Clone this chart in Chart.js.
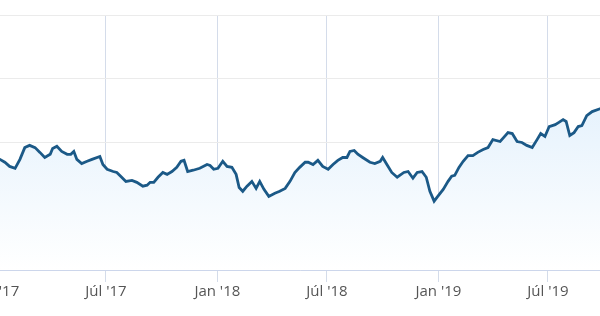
<!DOCTYPE html>
<html>
<head>
<meta charset="utf-8">
<script src="https://cdn.jsdelivr.net/npm/chart.js@4"></script>
<style>
  html, body { margin: 0; padding: 0; background: #fff; overflow: hidden; }
  #wrap { position: absolute; left: -60px; top: 0; width: 720px; height: 316px; }
</style>
</head>
<body>
<div id="wrap"><canvas id="chart" width="720" height="316"></canvas></div>
<script>
// days counted from 1 Jan 2017
const days = [0, 6, 14, 22, 31, 39, 47, 55, 64, 72, 80, 89, 93, 100, 108, 117, 123, 128, 133, 141,
  150, 158, 171, 176, 183, 193, 199, 207, 214, 224, 232, 242, 249, 254, 260, 267, 275, 282, 290, 298,
  305, 310, 316, 325, 336, 348, 353, 359, 366, 374, 381, 389, 396, 401, 407, 414, 422, 429, 435, 442,
  450, 460, 468, 477, 485, 493, 501, 510, 515, 523, 531, 539, 548, 556, 564, 572, 579, 584, 591, 597,
  605, 617, 625, 634, 638, 645, 653, 662, 673, 680, 688, 695, 703, 710, 716, 723, 729, 738, 746, 752,
  757, 764, 771, 779, 787, 795, 804, 812, 820, 832, 838, 845, 852, 860, 868, 876, 885, 893, 899, 906,
  913, 923, 929, 936, 941, 947, 954, 961, 967, 975, 984, 997, 1007];

const values = [95.3, 94.7, 93.8, 92.5, 91.9, 94.7, 98.4, 99.1, 98.4, 96.9, 95.3, 96.3, 98.1, 98.8, 97.2, 96.3, 96.3, 97.2, 94.7, 93.4,
  94.1, 94.7, 95.6, 93.1, 91.6, 90.9, 90.6, 89.1, 87.8, 88.1, 87.5, 86.3, 86.6, 87.5, 87.5, 89.1, 90.6, 90.0, 90.9, 92.2,
  94.1, 94.4, 90.9, 91.3, 91.9, 93.1, 92.8, 91.6, 91.9, 94.1, 92.5, 92.2, 90.0, 85.9, 84.7, 86.3, 87.8, 85.6, 87.8, 85.3,
  83.1, 84.1, 84.7, 85.6, 87.8, 90.6, 92.2, 93.8, 93.8, 93.1, 94.4, 92.5, 91.6, 93.1, 94.4, 95.3, 95.3, 97.2, 97.5, 96.3,
  95.3, 93.8, 93.4, 94.1, 95.3, 93.1, 90.6, 89.1, 90.6, 90.9, 88.8, 90.6, 90.9, 89.1, 84.7, 81.6, 83.1, 85.3, 87.8, 89.4,
  89.7, 92.2, 94.1, 95.9, 95.9, 96.9, 97.8, 98.4, 100.9, 100.3, 101.6, 103.1, 102.8, 100.3, 100.0, 99.1, 98.4, 100.9, 102.8, 101.9,
  105.0, 105.6, 106.3, 107.2, 106.6, 102.2, 103.1, 105.0, 105.3, 108.4, 109.7, 110.6, 111.3];

const tickDays = [0, 181, 365, 546, 730, 911];
const tickLabels = ["Jan '17", "Júl '17", "Jan '18", "Júl '18", "Jan '19", "Júl '19"];

const points = days.map((d, i) => ({x: d, y: values[i]}));

new Chart(document.getElementById('chart'), {
  type: 'line',
  data: {
    datasets: [{
      data: points,
      borderColor: '#1b5987',
      borderWidth: 2.8,
      pointRadius: 0,
      tension: 0,
      fill: 'start',
      backgroundColor: (context) => {
        const {ctx, chartArea} = context.chart;
        if (!chartArea) return 'rgba(230,242,252,1)';
        const g = ctx.createLinearGradient(0, chartArea.top, 0, chartArea.bottom);
        g.addColorStop(0, 'rgb(216,235,251)');
        g.addColorStop(1, 'rgb(255,255,255)');
        return g;
      }
    }]
  },
  options: {
    responsive: false,
    animation: false,
    layout: {padding: {top: 15, left: 0, right: 0, bottom: 0}},
    plugins: {legend: {display: false}, tooltip: {enabled: false}},
    scales: {
      x: {
        type: 'linear',
        min: -93,
        max: 1096,
        afterBuildTicks: (scale) => {
          scale.ticks = tickDays.map(v => ({value: v}));
        },
        afterFit: (scale) => { scale.height = 46; },
        grid: {color: '#d4dcea', drawTicks: true, tickLength: 12},
        border: {color: '#ccd6eb'},
        ticks: {
          padding: 1,
          maxRotation: 0,
          autoSkip: false,
          color: '#555555',
          font: {family: 'Open Sans', size: 15},
          callback: (value, index) => tickLabels[index]
        }
      },
      y: {
        min: 60,
        max: 140,
        afterFit: (scale) => { scale.width = 0; },
        grid: {color: '#ebebeb', drawTicks: false},
        border: {display: false},
        ticks: {display: false, stepSize: 20}
      }
    }
  }
});
</script>
</body>
</html>
